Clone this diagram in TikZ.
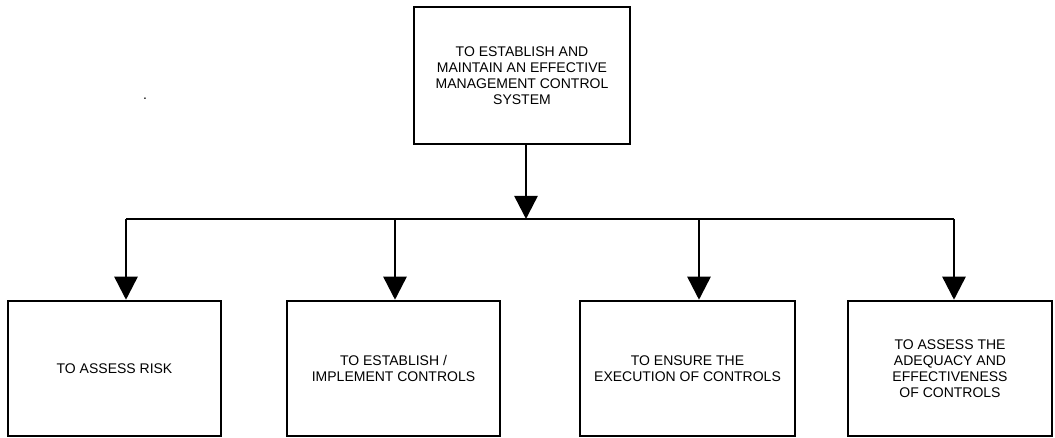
\documentclass[tikz,border=0pt]{standalone}
\usepackage{fontspec}
\setmainfont{Liberation Sans}
\usetikzlibrary{arrows.meta}

\begin{document}
\begin{tikzpicture}[x=1pt,y=-1pt,
		goal/.style={draw,line width=2.5pt,inner sep=0pt,align=center,
			font=\fontsize{14}{15.8}\selectfont},
		flow/.style={line width=2.5pt,-{Triangle[width=23pt,length=23pt]}}]
		\useasboundingbox (0,0) rectangle (1055,438);
		% goal boxes
		\node[goal,minimum width=216pt,minimum height=137pt] (top) at (522,75.5) {TO ESTABLISH AND\\MAINTAIN AN EFFECTIVE\\MANAGEMENT CONTROL\\SYSTEM};
		\node[goal,minimum width=213pt,minimum height=135pt] (risk) at (114.5,368.5) {TO ASSESS RISK};
		\node[goal,minimum width=213pt,minimum height=135pt] (impl) at (393.5,368.5) {TO ESTABLISH /\\IMPLEMENT CONTROLS};
		\node[goal,minimum width=215pt,minimum height=135pt] (exec) at (687.5,368.5) {TO ENSURE THE\\EXECUTION OF CONTROLS};
		\node[goal,minimum width=204pt,minimum height=135pt] (adeq) at (950,368.5) {TO ASSESS THE\\ADEQUACY AND\\EFFECTIVENESS\\OF CONTROLS};
		\node[font=\fontsize{14}{15.8}\selectfont] (dot) at (145,99) {.};
		% bus
		\coordinate (b0) at (526,219);
		\coordinate (b1) at (126,219);
		\coordinate (b2) at (395,219);
		\coordinate (b3) at (699,219);
		\coordinate (b4) at (954,219);
		\draw[flow] (b0 |- top.south) -- (b0);
		\draw[line width=2.5pt,line join=miter] (b1) -- (b4);
		\draw[flow] (b1) -- (b1 |- risk.north);
		\draw[flow] (b2) -- (b2 |- impl.north);
		\draw[flow] (b3) -- (b3 |- exec.north);
		\draw[flow] (b4) -- (b4 |- adeq.north);
	\end{tikzpicture}
\end{document}
